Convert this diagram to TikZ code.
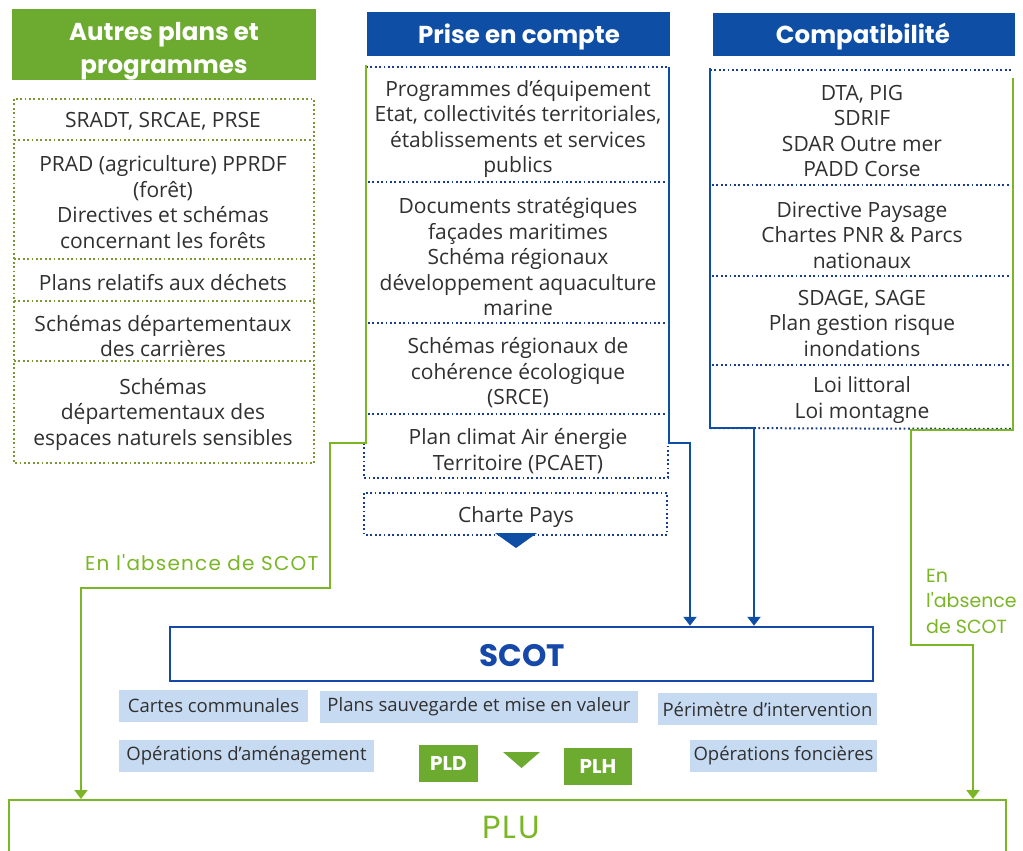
\documentclass[tikz,border=0pt]{standalone}
\usepackage{fontspec}
\setmainfont{Open Sans}
\newfontfamily\hdr{Poppins}
\newfontfamily\glfont{Poppins}[LetterSpace=6.0]
\usetikzlibrary{arrows.meta}
\definecolor{hgreen}{RGB}{108,170,48}
\definecolor{lgreen}{RGB}{122,182,38}
\definecolor{hblue}{RGB}{14,78,165}
\definecolor{sblue}{RGB}{22,72,170}
\definecolor{lblue}{RGB}{198,218,242}
\definecolor{txtgray}{RGB}{48,48,48}
\definecolor{dotgreen}{RGB}{120,150,50}
\definecolor{dotblue}{RGB}{25,60,140}
\begin{document}
\begin{tikzpicture}[x=1pt,y=-1pt,
  txt/.style={font=\fontsize{21}{25.5}\selectfont, text=txtgray, align=center, inner sep=0pt},
  hdrfill/.style={inner sep=0pt},
  hdrtxt/.style={font=\hdr\bfseries\fontsize{24.5}{33}\selectfont, text=white, align=center, inner sep=0pt},
  dotg/.style={dotgreen, line width=2pt, dash pattern=on 1.8pt off 2.6pt},
  dotb/.style={dotblue, line width=2pt, dash pattern=on 1.8pt off 2.6pt},
  bline/.style={hblue, line width=2.3pt, -{Triangle[width=13pt,length=9pt]}},
  gline/.style={lgreen, line width=2.3pt, -{Triangle[width=13pt,length=9pt]}},
  tag/.style={fill=lblue, font=\fontsize{18.5}{20}\selectfont, text=txtgray, inner sep=0pt, minimum height=32pt},
  gtag/.style={fill=hgreen, font=\hdr\bfseries\fontsize{20}{22}\selectfont, text=white, inner sep=0pt, minimum height=37pt},
  glabel/.style={font=\glfont\fontsize{20}{25.5}\selectfont, text=lgreen, inner sep=0pt}
]
\useasboundingbox (0,0) rectangle (1023,851);
\fill[white] (0,0) rectangle (1023,851);

% ---------- Left column ----------
\node[hdrfill, fill=hgreen, minimum width=304pt, minimum height=71pt] (lhb) at (164,45) {};
\node[hdrtxt] (lh) at (164,51) {Autres plans et\\programmes};
\draw[dotg] (14,99) rectangle (314,463);
\foreach \yy in {140,259,301,361} \draw[dotg] (14,\yy) -- (314,\yy);
\node[txt] (l1) at (163,121) {SRADT, SRCAE, PRSE};
\node[txt] (l2) at (163,202) {PRAD (agriculture) PPRDF\\(forêt)\\Directives et schémas\\concernant les forêts};
\node[txt] (l3) at (163,283) {Plans relatifs aux déchets};
\node[txt] (l4) at (163,336) {Schémas départementaux\\des carrières};
\node[txt] (l5) at (163,414) {Schémas\\départementaux des\\espaces naturels sensibles};

% ---------- Middle column ----------
\node[hdrfill, fill=hblue, minimum width=303pt, minimum height=44pt] (mhb) at (518.5,34) {};
\node[hdrtxt] (mh) at (519,37) {Prise en compte};
\coordinate (mTL) at (366,65);
\coordinate (mBL) at (366,443);
\coordinate (mTR) at (669,67);
\coordinate (mBR) at (669,443);
\coordinate (ma) at (690,443);
\draw[dotb] (366,67) -- (669,67);
\foreach \yy in {182,323,414} \draw[dotb] (368,\yy) -- (667,\yy);
\draw[dotb] (364,443) -- (364,478) -- (668,478) -- (668,443);
\node[txt] (m1) at (518,129) {Programmes d'équipement\\Etat, collectivités territoriales,\\établissements et services\\publics};
\node[txt] (m2) at (518,257) {Documents stratégiques\\façades maritimes\\Schéma régionaux\\développement aquaculture\\marine};
\node[txt] (m3) at (518,373) {Schémas régionaux de\\cohérence écologique\\(SRCE)};
\node[txt] (m4) at (518,451) {Plan climat Air énergie\\Territoire (PCAET)};
\draw[dotb] (364,493) rectangle (667,535);
\node[txt] (m5) at (516,517) {Charte Pays};
\fill[hblue] (495,533) -- (537,533) -- (516,548) -- cycle;

% ---------- Right column ----------
\node[hdrfill, fill=hblue, minimum width=302pt, minimum height=43pt] (rhb) at (864,34.5) {};
\node[hdrtxt] (rh) at (863,37) {Compatibilité};
\coordinate (rTL) at (710,68);
\coordinate (rBL) at (710,428);
\coordinate (rTR) at (1013,78);
\coordinate (rBR) at (1013,430);
\coordinate (ra) at (754,428);
\coordinate (ga) at (911,645);
\coordinate (gb) at (973,645);
\coordinate (gc) at (330,443);
\coordinate (gd) at (330,588);
\coordinate (ge) at (81,588);
\draw[dotb] (710,70) -- (1013,70);
\foreach \yy in {185,276,365} \draw[dotb] (712,\yy) -- (1011,\yy);
\draw[dotb] (710,428) -- (1013,429);
\node[txt] (r1) at (862,131) {DTA, PIG\\SDRIF\\SDAR Outre mer\\PADD Corse};
\node[txt] (r2) at (862,235) {Directive Paysage\\Chartes PNR \& Parcs\\nationaux};
\node[txt] (r3) at (862,323) {SDAGE, SAGE\\Plan gestion risque\\inondations};
\node[txt] (r4) at (862,400) {Loi littoral\\Loi montagne};

% ---------- SCOT ----------
\node[draw=sblue, line width=2.5pt, minimum width=703pt, minimum height=54pt, inner sep=0pt] (scot) at (521.5,654) {};
\node[font=\hdr\bfseries\fontsize{31}{36}\selectfont, text=sblue, inner sep=0pt] (scott) at (522,656) {SCOT};

\node[tag, minimum width=189pt] (cc) at (213.5,706) {Cartes communales};
\node[tag, minimum width=318pt] (ps) at (479,707) {Plans sauvegarde et mise en valeur};
\node[tag, minimum width=219pt] (pi) at (767.5,709) {Périmètre d'intervention};
\node[tag, minimum width=255pt] (oa) at (246.5,756) {Opérations d'aménagement};
\node[tag, minimum width=187pt] (of) at (783.5,756) {Opérations foncières};
\node[gtag, minimum width=59pt] (pld) at (448.5,763.5) {PLD};
\node[gtag, minimum width=68pt] (plh) at (598,766.5) {PLH};
\fill[hgreen] (503,752) -- (540,752) -- (521.5,768) -- cycle;

% ---------- PLU ----------
\node[draw=lgreen, line width=2.3pt, minimum width=997pt, minimum height=80pt, inner sep=0pt, anchor=north west] (plu) at (8,799) {};
\node[font=\glfont\fontsize{32}{36}\selectfont, text=lgreen, inner sep=0pt] (plut) at (511,827) {PLU};

% ---------- Connectors ----------
\draw[bline] (mTR) -- (mBR) -- (ma) -- (ma |- scot.north);
\draw[bline] (rTL) -- (rBL) -- (ra) -- (ra |- scot.north);
\draw[gline] (mTL) -- (mBL) -- (gc) -- (gd) -- (ge) -- (ge |- plu.north);
\draw[gline] (rTR) -- (rBR) -| (ga) -- (gb) -- (gb |- plu.north);

\node[glabel, anchor=west] (gl1) at (85,563) {En l'absence de SCOT};
\node[font=\hdr\fontsize{19}{25.5}\selectfont, text=lgreen, inner sep=0pt, anchor=west, align=left] (gl2) at (926,601) {En\\l'absence\\de SCOT};
\end{tikzpicture}
\end{document}
